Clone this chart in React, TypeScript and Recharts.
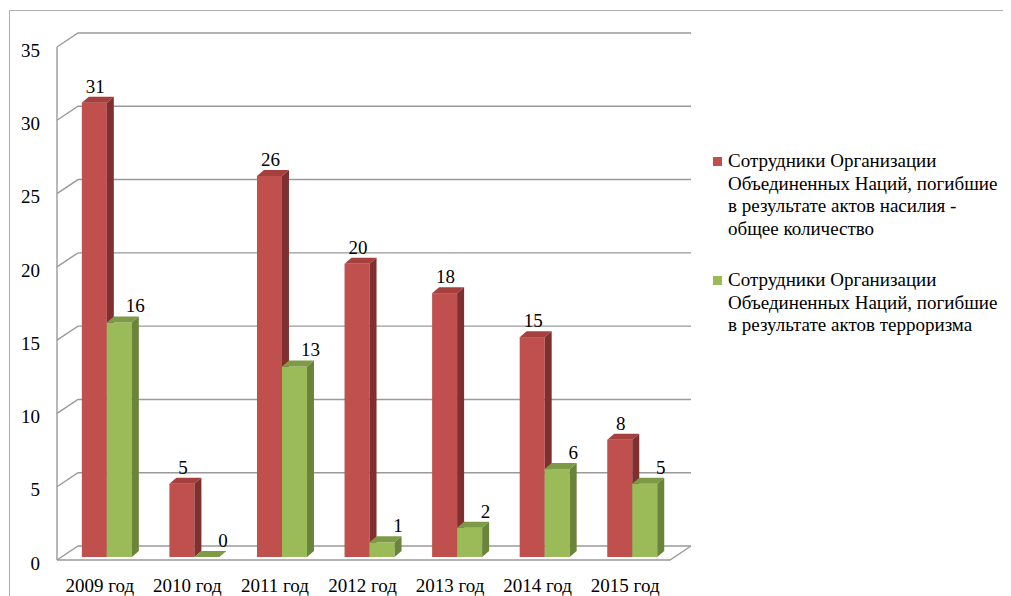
import React from 'react';
import { BarChart, Bar, XAxis, YAxis, CartesianGrid, LabelList } from 'recharts';

const years = ['2009 год', '2010 год', '2011 год', '2012 год', '2013 год', '2014 год', '2015 год'];
const violenceTotal = [31, 5, 26, 20, 18, 15, 8];
const terrorism = [16, 0, 13, 1, 2, 6, 5];
const yTicks = [0, 5, 10, 15, 20, 25, 30, 35];

// legend names, one entry per printed line
const totalNameLines = [
  'Сотрудники Организации',
  'Объединенных Наций, погибшие',
  'в результате актов насилия -',
  'общее количество',
];
const terrorNameLines = [
  'Сотрудники Организации',
  'Объединенных Наций, погибшие',
  'в результате актов терроризма',
];

const data = years.map((year, i) => ({ year, total: violenceTotal[i], terror: terrorism[i] }));

const FONT = "'Liberation Serif', 'Times New Roman', 'DejaVu Serif', serif";
const GRID = '#9a9a9a';
const DX = 7;
const DY = 6;

const series = [
  { key: 'total', lines: totalNameLines, front: '#C0504D', top: '#a5403e', side: '#7f302e', labelDx: 1 },
  { key: 'terror', lines: terrorNameLines, front: '#9BBB59', top: '#7f9a46', side: '#6a853a', labelDx: 16 },
];

const box = (s: typeof series[number]) => (props: any) => {
  const { x, y, width, height } = props;
  if (x == null || y == null) return <g />;
  const h = Math.max(0, height || 0);
  return (
    <g>
      <rect x={x} y={y} width={width} height={h} fill={s.front} />
      <polygon
        points={`${x},${y} ${x + DX},${y - DY} ${x + width + DX},${y - DY} ${x + width},${y}`}
        fill={s.top}
      />
      <polygon
        points={`${x + width},${y} ${x + width + DX},${y - DY} ${x + width + DX},${y + h - DY} ${x + width},${y + h}`}
        fill={s.side}
      />
    </g>
  );
};

const valueLabel = (dx: number) => (props: any) => {
  const { x, y, width, value } = props;
  return (
    <text x={x + width / 2 + dx} y={y - 10} textAnchor="middle" fontFamily={FONT} fontSize={19} fill="#000">
      {value}
    </text>
  );
};

const gridLine = (p: any) => {
  const { x1, x2, y1 } = p;
  const top = p.y ?? 36;
  const bottom = (p.y ?? 36) + (p.height ?? 513);
  const fx = x1 - 6;
  const fy = y1 + 3;
  const bx = x1 + 15;
  const by = y1 - 11;
  const br = x2 + 15;
  const isBottom = Math.abs(y1 - bottom) < 0.5;
  const isTop = Math.abs(y1 - top) < 0.5;
  return (
    <g key={`gl-${y1}`}>
      <polyline points={`${fx},${fy} ${bx},${by} ${br},${by}`} fill="none" stroke={GRID} strokeWidth={1.4} />
      {isBottom && (
        <polyline points={`${fx},${fy} ${x2 - 6},${fy} ${br},${by}`} fill="none" stroke={GRID} strokeWidth={1.4} />
      )}
      {isTop && <line x1={fx} y1={fy} x2={fx} y2={bottom + 3} stroke={GRID} strokeWidth={1.4} />}
    </g>
  );
};

const YTick = (props: any) => {
  const { y, payload } = props;
  return (
    <text x={32} y={y + 6} dy="0.35em" textAnchor="end" fontFamily={FONT} fontSize={19} fill="#000">
      {payload.value}
    </text>
  );
};

const XTick = (props: any) => {
  const { x, y, payload } = props;
  return (
    <text x={x - 7} y={y + 20} dy="0.35em" textAnchor="middle" fontFamily={FONT} fontSize={19} fill="#000">
      {payload.value}
    </text>
  );
};

const LegendBox = () => (
  <div
    style={{
      position: 'absolute',
      left: 705,
      top: 142,
      fontFamily: FONT,
      fontSize: 19,
      lineHeight: '22.5px',
      color: '#000',
    }}
  >
    {series.map((s, i) => (
      <div key={s.key} style={{ display: 'flex', alignItems: 'flex-start', marginBottom: i === 0 ? 29 : 0 }}>
        <span
          style={{ display: 'inline-block', width: 9, height: 9, background: s.front, marginTop: 7, marginRight: 6, flex: 'none' }}
        />
        <span style={{ whiteSpace: 'nowrap' }}>
          {s.lines.map((line) => (
            <div key={line}>{line}</div>
          ))}
        </span>
      </div>
    ))}
  </div>
);

export default function App() {
  return (
    <div style={{ position: 'relative', width: 1003, height: 588, overflow: 'hidden', background: '#fff' }}>
      <BarChart
        width={1003}
        height={588}
        data={data}
        margin={{ top: 36, right: 335, bottom: 0, left: 0 }}
        barCategoryGap="21.5%"
        barGap={0}
      >
        <CartesianGrid vertical={false} horizontal={gridLine} />
        <XAxis dataKey="year" axisLine={false} tickLine={false} height={39} tick={<XTick />} interval={0} />
        <YAxis domain={[0, 35]} ticks={yTicks} axisLine={false} tickLine={false} width={55} tick={<YTick />} />
        {series.map((s) => (
          <Bar key={s.key} dataKey={s.key} name={s.lines.join(' ')} shape={box(s)} isAnimationActive={false}>
            <LabelList dataKey={s.key} content={valueLabel(s.labelDx)} />
          </Bar>
        ))}
      </BarChart>
      <LegendBox />
      <div
        style={{
          position: 'absolute',
          left: 1,
          top: 2,
          width: 1002,
          height: 586,
          borderLeft: '1px solid #b0b0b0',
          borderTop: '1px solid #b0b0b0',
          pointerEvents: 'none',
        }}
      />
    </div>
  );
}
